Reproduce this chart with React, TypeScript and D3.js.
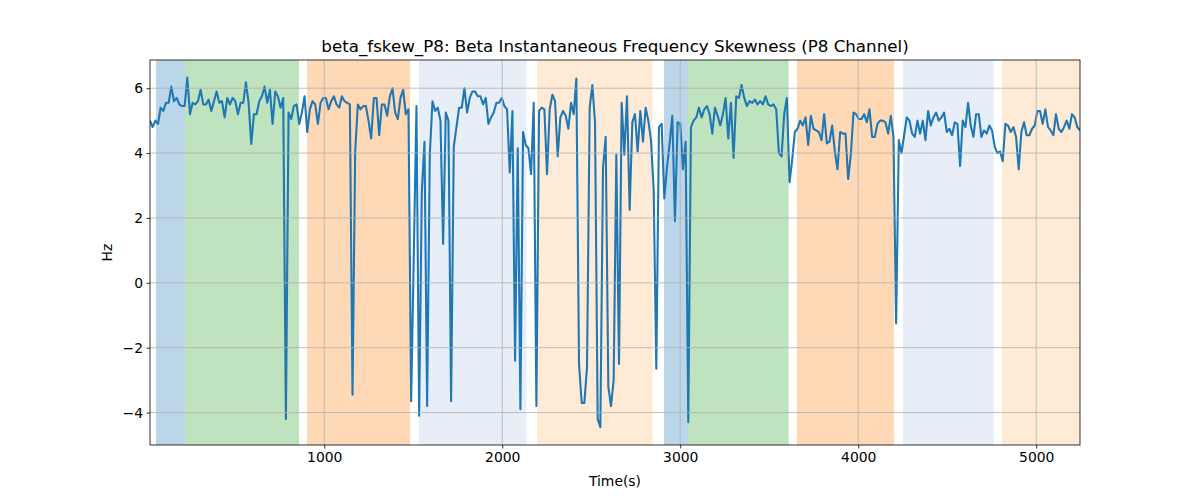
import React, { useEffect, useRef } from 'react';
import * as d3 from 'd3';

const skewValues: number[] = [
  5.0, 4.8, 5.0, 4.9, 5.4, 5.3, 5.55, 5.55, 6.05, 5.6,
  5.7, 5.5, 5.45, 5.45, 6.33, 5.2, 5.55, 5.5, 5.6, 5.95,
  5.5, 5.5, 5.65, 5.3, 5.6, 5.9, 5.55, 5.6, 5.1, 5.7,
  5.5, 5.7, 5.6, 5.2, 5.55, 5.55, 6.18, 5.55, 4.28, 5.2,
  5.2, 5.6, 5.75, 6.05, 5.55, 5.95, 4.9, 5.9, 5.75, 5.4,
  5.7, -4.2, 5.25, 5.05, 5.45, 5.5, 4.9, 5.25, 5.75,
  4.65, 5.35, 5.6, 5.5, 4.9, 5.55, 5.7, 5.7, 5.35, 5.6,
  5.75, 5.5, 5.4,
  5.75, 5.6, 5.55, 5.5, -3.45, 4.05, 5.5, 5.35, 5.45, 5.45,
  5.0, 4.45, 5.7, 5.7, 4.55, 5.5, 5.5, 5.15, 5.75, 6.0,
  5.25, 5.05, 5.7, 5.95, 5.2, 5.35, -3.65, 0.9, 5.45, -4.1,
  2.8, 4.35, -3.8, 3.95, 5.6, 5.3, 5.4, 5.0, 1.2, 5.25,
  5.0, -3.65, 4.2, 4.8, 5.4, 5.4, 6.0, 5.25, 5.7, 5.9,
  5.9, 5.75, 5.75, 5.5, 5.7, 4.9, 5.1, 5.25, 5.55, 5.55,
  5.7, 5.45, 5.35, 3.4, 5.3, -2.4, 4.15, -3.9, 4.65, 4.25,
  4.15,
  3.35, 5.55, -3.8, 5.3, 5.4, 5.35, 3.35, 5.35, 5.8, 5.6,
  3.9, 5.1, 5.3, 5.15, 4.75, 5.55, 5.2, 6.3, -2.5, -3.7,
  -3.7, -2.6, 5.4, 6.1, 4.95, -4.2, -4.45, 3.55, 4.5, -3.2,
  -3.8, -3.0, 3.95, -2.5, 5.55, 3.95, 5.75, 2.25, 4.95, 5.2,
  4.05, 5.3, 4.35, 5.4, 5.0, 4.4, 2.9, -2.65, 4.8, 4.9,
  2.6, 3.55, 4.3, 5.15, 1.9, 4.95, 4.9, 3.5, 4.35, -4.3,
  4.8, 5.0, 5.1, 5.4, 5.1, 5.35, 5.45, 5.2, 4.6, 5.4,
  5.15, 4.85,
  5.2, 5.7, 4.45, 5.55, 3.85, 5.75, 5.7, 6.1, 5.7, 5.45,
  5.6, 5.55, 5.65, 5.5, 5.6, 5.5, 5.75, 5.5, 5.45, 5.5,
  5.35, 4.0, 3.9, 5.2, 5.7, 3.1, 3.8, 4.65, 4.75, 5.0,
  4.85, 5.1, 4.25, 5.15, 4.75, 4.7, 4.65, 4.4, 5.2, 4.3,
  4.35, 4.85, 4.05, 3.5, 4.65, 4.6, 4.6, 3.2, 3.95, 5.25,
  5.2, 5.05, 5.05, 5.2, 4.95, 5.35, 4.5, 4.5, 4.9, 5.0,
  5.0, 4.95, 4.6, 5.15, 4.5, -1.25, 4.4, 4.0, 4.55, 5.1,
  5.0,
  4.6, 4.5, 5.0, 4.6, 5.0, 4.4, 5.3, 4.85, 5.1, 5.25,
  5.0, 5.1, 5.25, 4.65, 4.75, 4.55, 4.95, 4.9, 3.6, 5.0,
  4.8, 5.55, 4.85, 4.5, 5.2, 5.2, 4.5, 4.7, 4.6, 4.85,
  4.7, 4.2, 4.0, 4.05, 3.75, 4.9, 4.85, 4.65, 4.8, 4.5,
  3.5, 4.65, 4.95, 4.55, 4.55, 4.75, 4.85, 5.3, 5.3, 4.9,
  5.35, 4.8, 4.7, 4.55, 5.2, 4.75, 4.65, 4.8, 5.0, 4.75,
  5.2, 5.1, 4.8, 4.7,
];

const timeStart = 21;
const timeEnd = 5246;

// shaded phases: start, end (s) and colour
const spanStarts = [55, 218, 903, 1532, 2195, 2909, 3042, 3656, 4251, 4808];
const spanEnds = [218, 858, 1482, 2137, 2845, 3042, 3609, 4201, 4761, 5300];
const spanColors = [
  '#1f77b4', '#2ca02c', '#ff7f0e', '#aec7e8', '#ffbb78',
  '#1f77b4', '#2ca02c', '#ff7f0e', '#aec7e8', '#ffbb78',
];

const xTicks = [1000, 2000, 3000, 4000, 5000];
const yTicks = [-4, -2, 0, 2, 4, 6];
const yDomain: [number, number] = [-5.0, 6.87];

const FONT = '"DejaVu Sans", sans-serif';

const SkewChart: React.FC<{ width?: number; height?: number }> = ({
  width = 1200,
  height = 500,
}) => {
  const svgRef = useRef<SVGSVGElement>(null);

  useEffect(() => {
    if (!svgRef.current) return;
    document.body.style.margin = '0';

    const svg = d3.select(svgRef.current);
    svg.selectAll('*').remove();

    const margin = { top: 60, right: 120, bottom: 55, left: 150 };
    const innerWidth = width - margin.left - margin.right;
    const innerHeight = height - margin.top - margin.bottom;

    svg.attr('width', width).attr('height', height);
    svg.append('rect').attr('width', width).attr('height', height).attr('fill', '#ffffff');

    const g = svg.append('g').attr('transform', `translate(${margin.left},${margin.top})`);

    const step = (timeEnd - timeStart) / (skewValues.length - 1);
    const data: [number, number][] = skewValues.map((v, i) => [timeStart + i * step, v]);

    const xScale = d3.scaleLinear().domain([timeStart, timeEnd]).range([0, innerWidth]);
    const yScale = d3.scaleLinear().domain(yDomain).range([innerHeight, 0]);

    const clipId = 'plot-clip';
    svg
      .append('defs')
      .append('clipPath')
      .attr('id', clipId)
      .append('rect')
      .attr('width', innerWidth)
      .attr('height', innerHeight);

    const plot = g.append('g').attr('clip-path', `url(#${clipId})`);

    plot
      .selectAll('.span')
      .data(spanStarts)
      .enter()
      .append('rect')
      .attr('class', 'span')
      .attr('x', (d) => xScale(d))
      .attr('y', 0)
      .attr('width', (d, i) => xScale(spanEnds[i]) - xScale(d))
      .attr('height', innerHeight)
      .attr('fill', (d, i) => spanColors[i])
      .attr('fill-opacity', 0.3);

    // grid
    g.append('g')
      .selectAll('line')
      .data(xTicks)
      .enter()
      .append('line')
      .attr('x1', (d) => xScale(d))
      .attr('x2', (d) => xScale(d))
      .attr('y1', 0)
      .attr('y2', innerHeight)
      .attr('stroke', '#b0b0b0')
      .attr('stroke-width', 0.8);

    g.append('g')
      .selectAll('line')
      .data(yTicks)
      .enter()
      .append('line')
      .attr('x1', 0)
      .attr('x2', innerWidth)
      .attr('y1', (d) => yScale(d))
      .attr('y2', (d) => yScale(d))
      .attr('stroke', '#b0b0b0')
      .attr('stroke-width', 0.8);

    const line = d3
      .line<[number, number]>()
      .x((d) => xScale(d[0]))
      .y((d) => yScale(d[1]));

    plot
      .append('path')
      .datum(data)
      .attr('d', line)
      .attr('fill', 'none')
      .attr('stroke', '#1f77b4')
      .attr('stroke-width', 2.08)
      .attr('stroke-linejoin', 'round');

    // frame
    g.append('rect')
      .attr('width', innerWidth)
      .attr('height', innerHeight)
      .attr('fill', 'none')
      .attr('stroke', '#000')
      .attr('stroke-width', 0.8);

    const xAxis = g
      .append('g')
      .attr('transform', `translate(0,${innerHeight})`)
      .call(d3.axisBottom(xScale).tickValues(xTicks).tickSize(3.5).tickPadding(3.5).tickFormat(d3.format('d')));
    const yAxis = g
      .append('g')
      .call(d3.axisLeft(yScale).tickValues(yTicks).tickSize(3.5).tickPadding(3.5));

    [xAxis, yAxis].forEach((ax) => {
      ax.select('.domain').remove();
      ax.selectAll('line').attr('stroke', '#000').attr('stroke-width', 0.8);
      ax.selectAll('text')
        .attr('fill', '#000')
        .attr('font-family', FONT)
        .attr('font-size', '13.9px');
    });

    g.append('text')
      .attr('x', innerWidth / 2)
      .attr('y', innerHeight + 41)
      .attr('text-anchor', 'middle')
      .attr('font-family', FONT)
      .attr('font-size', '13.9px')
      .text('Time(s)');

    g.append('text')
      .attr('transform', 'rotate(-90)')
      .attr('x', -innerHeight / 2)
      .attr('y', -38)
      .attr('text-anchor', 'middle')
      .attr('font-family', FONT)
      .attr('font-size', '13.9px')
      .text('Hz');

    g.append('text')
      .attr('x', innerWidth / 2)
      .attr('y', -8)
      .attr('text-anchor', 'middle')
      .attr('font-family', FONT)
      .attr('font-size', '16.7px')
      .text('beta_fskew_P8: Beta Instantaneous Frequency Skewness (P8 Channel)');
  }, [width, height]);

  return <svg ref={svgRef} style={{ display: 'block' }} />;
};

export default function App() {
  return <SkewChart />;
}
